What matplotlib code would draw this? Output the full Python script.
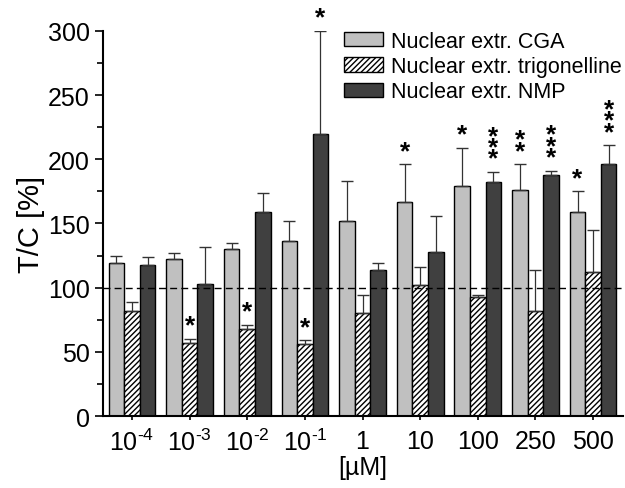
import numpy as np
import matplotlib
matplotlib.use('Agg')
import matplotlib.pyplot as plt

plt.rcParams['font.family'] = ['Liberation Sans', 'DejaVu Sans']
plt.rcParams['mathtext.fontset'] = 'custom'
plt.rcParams['mathtext.rm'] = 'Liberation Sans'
plt.rcParams['hatch.color'] = '#404040'
plt.rcParams['hatch.linewidth'] = 1.0

# concentrations [uM]
conc_labels = [r'$\mathregular{10^{\text{-}4}}$', r'$\mathregular{10^{\text{-}3}}$',
               r'$\mathregular{10^{\text{-}2}}$', r'$\mathregular{10^{\text{-}1}}$',
               '1', '10', '100', '250', '500']

cga       = [119, 122, 130, 136, 152, 167, 179, 176, 159]
cga_err   = [6, 5, 5, 16, 31, 29, 30, 20, 16]
trig      = [82, 57, 68, 56, 80, 102, 93, 82, 112]
trig_err  = [7, 3, 3, 3, 14, 14, 1, 32, 33]
nmp       = [118, 103, 159, 220, 114, 128, 182, 188, 196]
nmp_err   = [6, 29, 15, 80, 5, 28, 8, 3, 15]

cga_sig  = ['', '', '', '', '', '*', '*', '**', '*']
trig_sig = ['', '*', '*', '*', '', '', '', '', '']
nmp_sig  = ['', '', '', '*', '', '', '***', '***', '***']

fig = plt.figure(figsize=(6.25, 4.89), dpi=100)
ax = fig.add_axes([0.165, 0.147, 0.832, 0.788])

x = np.arange(len(conc_labels))
w = 0.27

def draw(pos, vals, errs, sig, label, **kw):
    ax.bar(pos, vals, w, edgecolor='black', linewidth=1.0, label=label, zorder=2, **kw)
    ax.errorbar(pos, vals, yerr=[np.zeros(len(vals)), errs], fmt='none', ecolor='#333333',
                elinewidth=0.9, capsize=4, capthick=1.0, zorder=3)
    for xi, v, e, s in zip(pos, vals, errs, sig):
        if s:
            txt = '\n'.join(s)
            ax.text(xi, v + e + 1, txt, ha='center', va='bottom', fontsize=19,
                    fontweight='bold', linespacing=0.34, zorder=4)

draw(x - w, cga, cga_err, cga_sig, 'Nuclear extr. CGA', color='#c0c0c0')
draw(x, trig, trig_err, trig_sig, 'Nuclear extr. trigonelline', color='white', hatch='//////')
draw(x + w, nmp, nmp_err, nmp_sig, 'Nuclear extr. NMP', color='#404040')

ax.axhline(100, color='black', linestyle=(0, (5, 3)), linewidth=1.0, zorder=5)

ax.set_xlim(-0.5, 8.52)
ax.set_ylim(0, 300)
ax.set_xticks(x)
ax.set_xticklabels(conc_labels, fontsize=18)
ax.set_yticks(np.arange(0, 301, 50))
ax.set_yticks(np.arange(25, 300, 50), minor=True)
ax.tick_params(axis='y', which='major', labelsize=18, length=6, width=1.2)
ax.tick_params(axis='y', which='minor', length=4, width=1.2)
ax.tick_params(axis='x', length=3, width=1.2, pad=6)
for s in ['top', 'right']:
    ax.spines[s].set_visible(False)
for s in ['left', 'bottom']:
    ax.spines[s].set_linewidth(1.5)

ax.set_ylabel('T/C [%]', fontsize=21, labelpad=2)
ax.set_xlabel('[µM]', fontsize=18, labelpad=0)

ax.legend(loc='upper left', bbox_to_anchor=(0.463, 1.0), frameon=False, fontsize=15.5,
          handlelength=1.8, handleheight=0.65, handletextpad=0.4, labelspacing=0.2,
          borderpad=0, borderaxespad=0)

fig.savefig('out.png', dpi=100)
